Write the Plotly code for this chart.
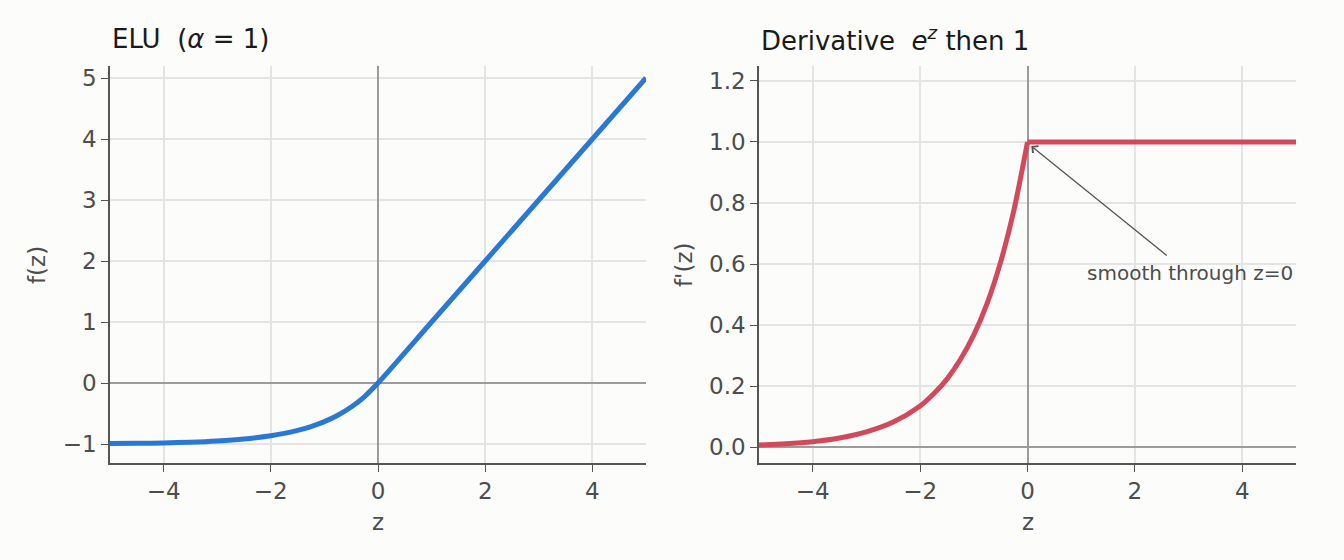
import plotly.graph_objects as go

# ---- data ----
z_elu = [-5, -4.5, -4, -3.5, -3, -2.5, -2, -1.75, -1.5, -1.25, -1, -0.75, -0.5, -0.25, 0, 1, 2, 3, 4, 5]
elu_vals = [-0.993, -0.989, -0.982, -0.97, -0.95, -0.918, -0.865, -0.826, -0.777, -0.713, -0.632, -0.528, -0.393, -0.221, 0, 1, 2, 3, 4, 5]

z_der_neg = [-5, -4.5, -4, -3.5, -3, -2.5, -2, -1.75, -1.5, -1.25, -1, -0.75, -0.5, -0.25, 0]
der_neg = [0.007, 0.011, 0.018, 0.03, 0.05, 0.082, 0.135, 0.174, 0.223, 0.287, 0.368, 0.472, 0.607, 0.779, 1.0]
z_der_pos = [0, 5]
der_pos = [1.0, 1.0]

x_ticks = [-4, -2, 0, 2, 4]
y1_ticks = [-1, 0, 1, 2, 3, 4, 5]
y2_ticks = [0.0, 0.2, 0.4, 0.6, 0.8, 1.0, 1.2]

BLUE = "#2a78d6"
RED = "#d1495b"
BG = "#fcfcfa"
TXT = "#4d4d4d"
FONT = "DejaVu Sans"
W, H = 1344, 560

fig = go.Figure()
fig.add_trace(go.Scatter(x=z_elu, y=elu_vals, mode="lines", line=dict(color=BLUE, width=5, shape="spline", smoothing=0.8),
                         xaxis="x", yaxis="y", showlegend=False, hoverinfo="skip"))
fig.add_trace(go.Scatter(x=z_der_neg, y=der_neg, mode="lines", line=dict(color=RED, width=5, shape="spline", smoothing=0.8),
                         xaxis="x2", yaxis="y2", showlegend=False, hoverinfo="skip"))
fig.add_trace(go.Scatter(x=z_der_pos, y=der_pos, mode="lines", line=dict(color=RED, width=5),
                         xaxis="x2", yaxis="y2", showlegend=False, hoverinfo="skip"))

ydom = [1 - 463 / H, 1 - 66 / H]
axis_common = dict(
    showgrid=True, gridcolor="#e4e4e4", gridwidth=1.5,
    zeroline=True, zerolinecolor="#9c9c9c", zerolinewidth=1.6,
    showline=True, linecolor="#555555", linewidth=1.6, mirror=False,
    ticks="outside", ticklen=7, tickwidth=1.4, tickcolor="#555555",
    tickfont=dict(family=FONT, size=23, color=TXT),
)
fig.update_layout(
    width=W, height=H,
    margin=dict(l=0, r=0, t=0, b=0),
    paper_bgcolor=BG, plot_bgcolor=BG,
    xaxis=dict(domain=[110 / W, 646 / W], range=[-5, 5], tickvals=x_ticks, anchor="y", **axis_common),
    yaxis=dict(domain=ydom, range=[-1.311, 5.197], tickvals=y1_ticks, anchor="x", **axis_common),
    xaxis2=dict(domain=[759 / W, 1296 / W], range=[-5, 5], tickvals=x_ticks, anchor="y2", **axis_common),
    yaxis2=dict(domain=ydom, range=[-0.052, 1.249], tickvals=y2_ticks, tickformat=".1f", anchor="x2", **axis_common),
)

anns = [
    dict(text="ELU\u00a0\u00a0(<i>α</i>\u00a0=\u00a01)", x=110 / W, y=1 - 39 / H, xanchor="left", yanchor="middle",
         font=dict(family=FONT, size=26, color="#1a1a1a")),
    dict(text="Derivative\u00a0\u00a0<i>e</i><sup><i>z</i></sup> then 1", x=759 / W, y=1 - 39 / H, xanchor="left", yanchor="middle",
         font=dict(family=FONT, size=26, color="#1a1a1a")),
    dict(text="z", x=378 / W, y=1 - 522 / H, xanchor="center", yanchor="middle", font=dict(family=FONT, size=23, color=TXT)),
    dict(text="z", x=1028 / W, y=1 - 522 / H, xanchor="center", yanchor="middle", font=dict(family=FONT, size=23, color=TXT)),
    dict(text="f(z)", x=37 / W, y=1 - 265 / H, xanchor="center", yanchor="middle", textangle=-90,
         font=dict(family=FONT, size=23, color=TXT)),
    dict(text="f'(z)", x=684 / W, y=1 - 265 / H, xanchor="center", yanchor="middle", textangle=-90,
         font=dict(family=FONT, size=23, color=TXT)),
]
for a in anns:
    a.update(xref="paper", yref="paper", showarrow=False)
    fig.add_annotation(**a)

# arrow annotation
fig.add_annotation(x=0.07, y=0.987, xref="x2", yref="y2", ax=2.65, ay=0.62, axref="x2", ayref="y2",
                   text=" ", showarrow=True, arrowhead=4, arrowsize=1.3, arrowwidth=1.3, arrowcolor="#555555", standoff=0)
fig.add_annotation(x=3.03, y=0.57, xref="x2", yref="y2", text="smooth through z=0", showarrow=False,
                   xanchor="center", yanchor="middle", font=dict(family=FONT, size=20, color=TXT))

fig.write_html("out.html")
